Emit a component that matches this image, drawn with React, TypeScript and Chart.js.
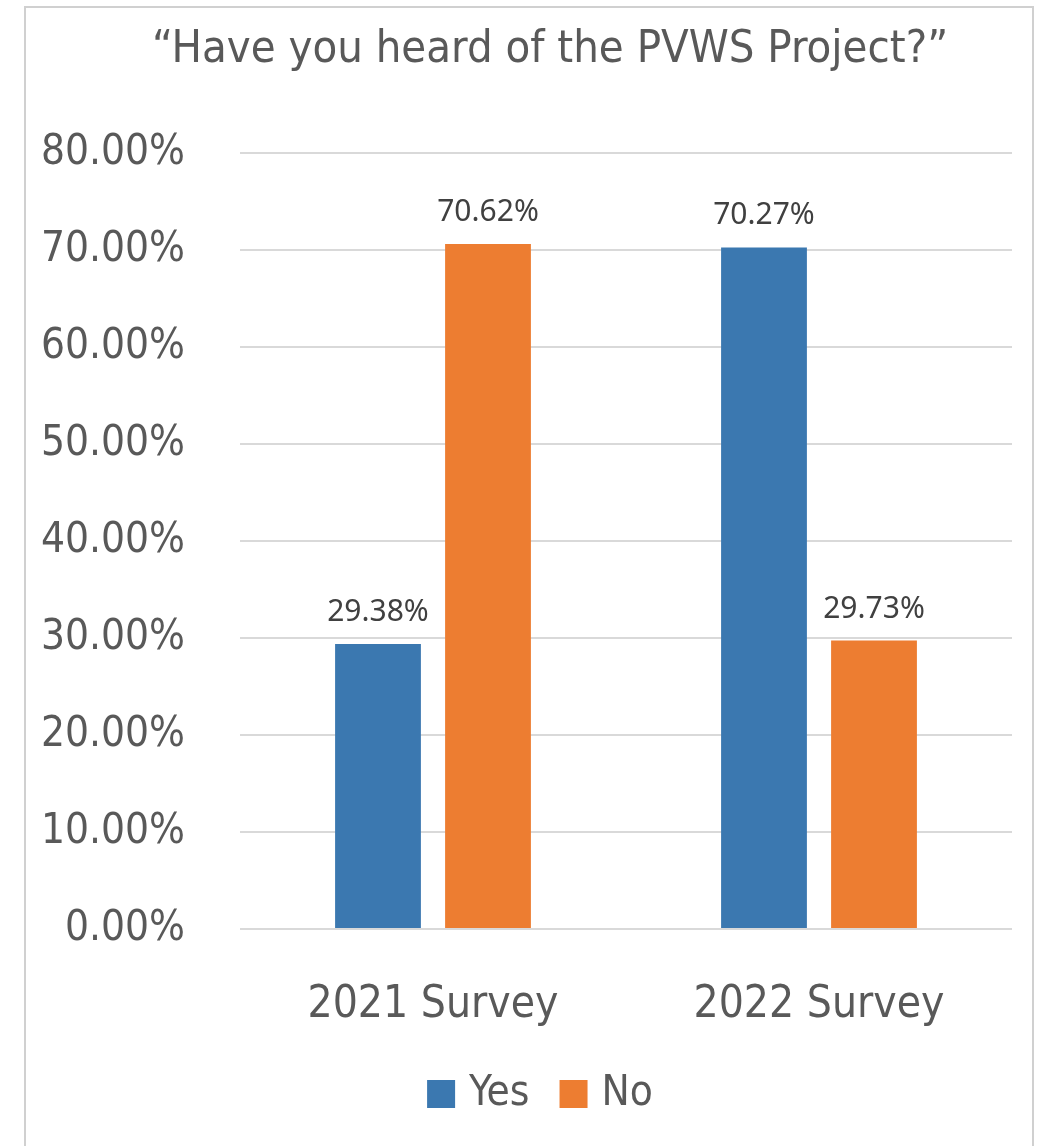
import React, { useEffect, useRef } from "react";
import { Chart, registerables } from "chart.js";

Chart.register(...registerables);

const title = "“Have you heard of the PVWS Project?”";
const categories = ["2021 Survey", "2022 Survey"];
const seriesNames = ["Yes", "No"];
const yesValues = [29.38, 70.27];
const noValues = [70.62, 29.73];
const yTicks = [0, 10, 20, 30, 40, 50, 60, 70, 80];

const BLUE = "#3B78B0";
const ORANGE = "#ED7D31";
const TEXT = "#595959";
const FONT = "'Liberation Sans Narrow', 'DejaVu Sans Condensed', 'Liberation Sans', sans-serif";
const LABEL_FONT = "'Noto Sans', 'Open Sans', sans-serif";

export default function App() {
  const ref = useRef<HTMLCanvasElement | null>(null);

  useEffect(() => {
    document.body.style.margin = "0";
    const canvas = ref.current;
    if (!canvas) return;

    const decor = {
      id: "decor",
      beforeDraw(chart: any) {
        const ctx = chart.ctx;
        ctx.save();
        ctx.fillStyle = "#ffffff";
        ctx.fillRect(0, 0, chart.width, chart.height);
        ctx.strokeStyle = "#D0D0D0";
        ctx.lineWidth = 2;
        ctx.strokeRect(25, 7, 1008, 1160);
        ctx.restore();
      },
      afterDraw(chart: any) {
        const ctx = chart.ctx;
        ctx.save();
        // title
        ctx.fillStyle = TEXT;
        ctx.font = `45px ${FONT}`;
        ctx.textAlign = "center";
        ctx.textBaseline = "middle";
        ctx.fillText(title, 550, 50);
        // data labels
        ctx.font = `30px ${LABEL_FONT}`;
        ctx.fillStyle = "#404040";
        ctx.textBaseline = "alphabetic";
        chart.data.datasets.forEach((ds: any, di: number) => {
          const meta = chart.getDatasetMeta(di);
          meta.data.forEach((bar: any, i: number) => {
            const v = ds.data[i] as number;
            ctx.fillText(v.toFixed(2) + "%", bar.x, bar.y - 23);
          });
        });
        // legend
        const items = chart.data.datasets.map((ds: any) => ({ label: ds.label, color: ds.backgroundColor }));
        ctx.font = `42px ${FONT}`;
        ctx.textAlign = "left";
        ctx.textBaseline = "middle";
        const box = 28;
        const gapBoxText = 14;
        const gapItems = 30;
        const widths = items.map((it: any) => box + gapBoxText + ctx.measureText(it.label).width);
        const total = widths.reduce((a: number, b: number) => a + b, 0) + gapItems * (items.length - 1);
        let x = 540 - total / 2;
        const y = 1094;
        items.forEach((it: any, i: number) => {
          ctx.fillStyle = it.color;
          ctx.fillRect(x, y - box / 2, box, box);
          ctx.fillStyle = TEXT;
          ctx.fillText(it.label, x + box + gapBoxText, y);
          x += widths[i] + gapItems;
        });
        ctx.restore();
      },
    };

    const chart = new Chart(canvas, {
      type: "bar",
      data: {
        labels: categories,
        datasets: [
          { label: seriesNames[0], data: yesValues, backgroundColor: BLUE },
          { label: seriesNames[1], data: noValues, backgroundColor: ORANGE },
        ],
      },
      options: {
        animation: false,
        responsive: false,
        maintainAspectRatio: false,
        devicePixelRatio: 1,
        layout: { padding: { left: 0, right: 1051 - 1012, top: 153, bottom: 0 } },
        plugins: {
          legend: { display: false },
          title: { display: false },
          tooltip: { enabled: false },
        },
        datasets: {
          bar: { categoryPercentage: 0.57, barPercentage: 0.78 },
        },
        scales: {
          x: {
            grid: { display: false, drawTicks: false },
            border: { display: false },
            ticks: {
              color: TEXT,
              font: { family: FONT, size: 44 },
              padding: 50,
            },
            afterFit(scale: any) {
              scale.height = 1146 - 929;
            },
          },
          y: {
            min: 0,
            max: 80,
            afterBuildTicks(scale: any) {
              scale.ticks = yTicks.map((v) => ({ value: v }));
            },
            grid: { color: "#D9D9D9", lineWidth: 2, drawTicks: false },
            border: { display: false },
            ticks: {
              color: TEXT,
              font: { family: FONT, size: 42 },
              padding: 55,
              callback: (v: any) => Number(v).toFixed(2) + "%",
            },
            afterFit(scale: any) {
              scale.width = 240;
            },
          },
        },
      },
      plugins: [decor],
    });

    return () => chart.destroy();
  }, []);

  return (
    <div style={{ width: 1051, height: 1146 }}>
      <canvas ref={ref} width={1051} height={1146} style={{ display: "block", width: 1051, height: 1146 }} />
    </div>
  );
}
